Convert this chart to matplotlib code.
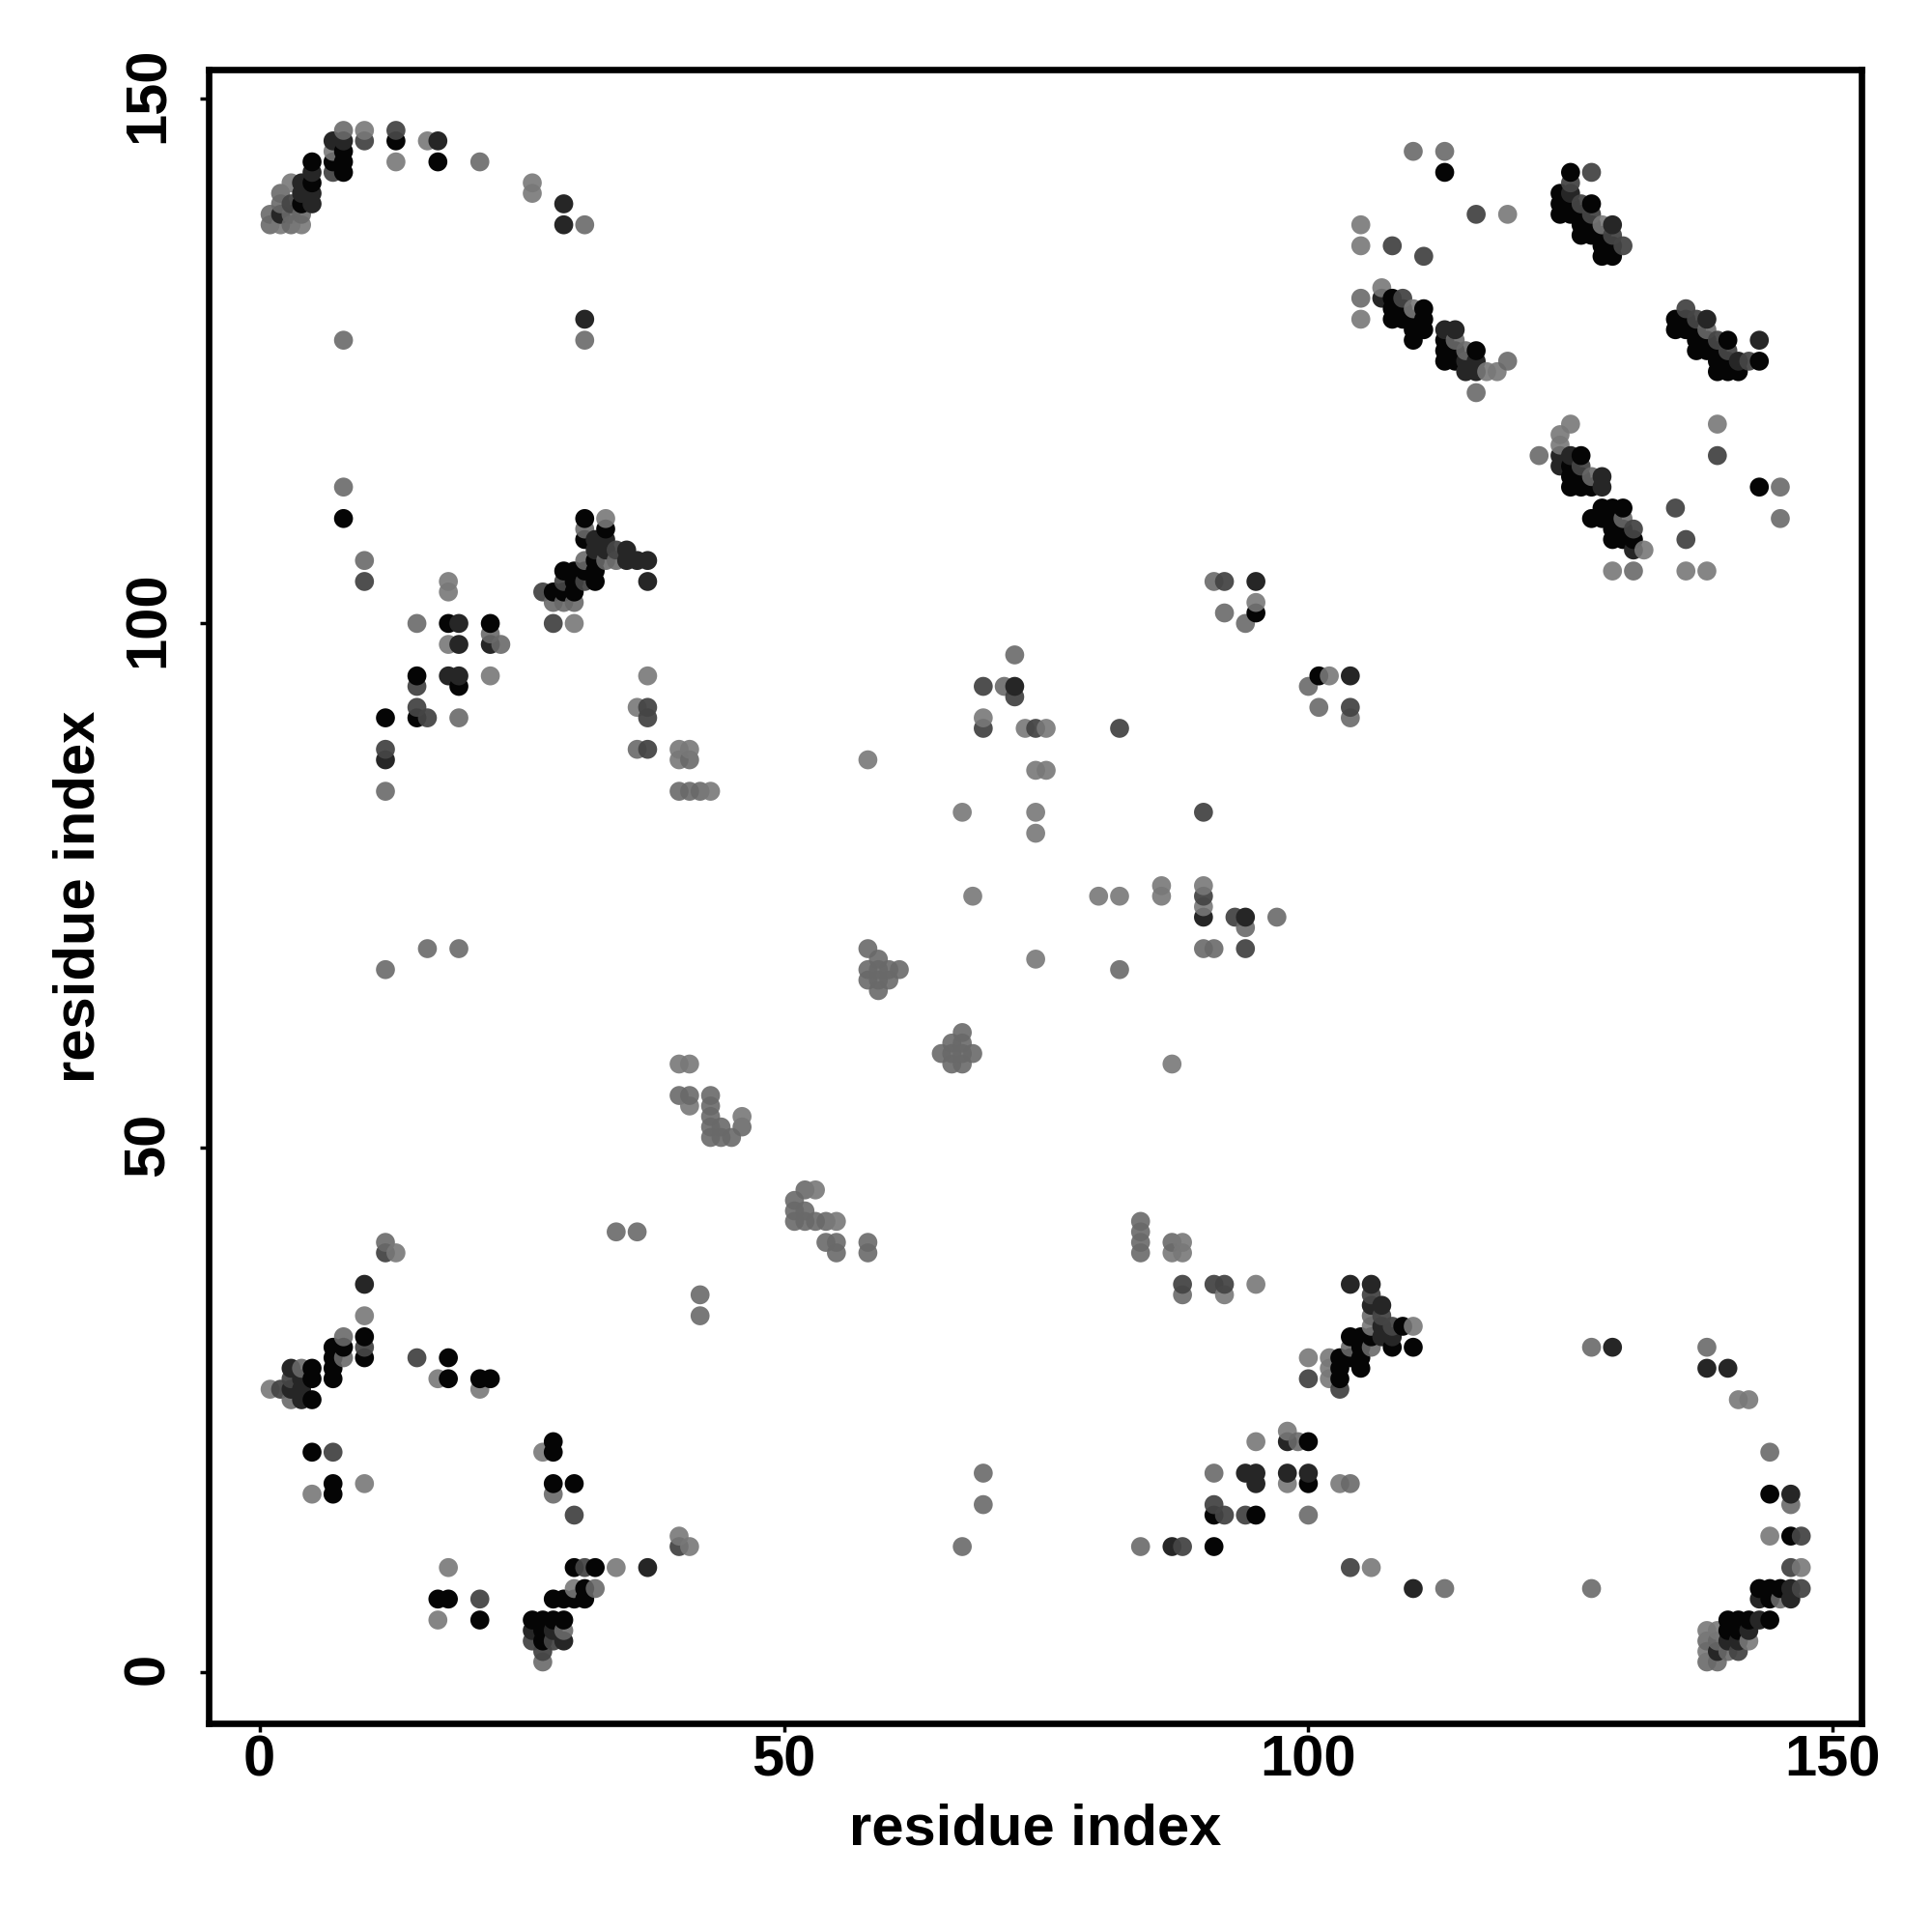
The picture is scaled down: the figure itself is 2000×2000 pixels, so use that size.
import numpy as np
import matplotlib
matplotlib.use("Agg")
from matplotlib import pyplot as plt
from matplotlib.transforms import ScaledTranslation

plt.rcParams["font.family"] = ["Liberation Sans", "DejaVu Sans"]
plt.rcParams["font.weight"] = "bold"

# contacts (x, y), grouped by how dark the dot is
cerne = [(13,146),(17,144),(5,144),(5,142),(4,140),(7,144),(8,145),(8,144),(8,143),
    (113,143),(108,131),(108,130),(108,129),(109,130),(109,129),(110,129),(110,128),(110,127),(111,130),(111,129),(111,128),
    (113,127),(113,126),(113,125),(114,126),(114,125),(116,126),
    (125,143),(124,141),(124,140),(124,139),(125,140),(125,139),(126,139),(126,138),(126,137),(127,140),(127,138),(127,137),
    (128,137),(128,136),(128,135),(129,136),(129,135),
    (135,129),(135,128),(136,129),(136,128),(137,128),(137,127),(137,126),(138,127),(138,126),(139,126),(139,125),(139,124),
    (140,127),(140,125),(140,124),(141,124),(143,125),
    (125,115),(125,114),(125,113),(126,116),(126,114),(126,113),(127,113),(128,111),(128,110),(129,111),(129,110),(129,109),(129,108),
    (127,110),(130,111),(130,109),(130,108),(131,108),(143,113),
    (8,110),(18,100),(22,100),(19,94),(15,95),(12,91),(15,91),(31,110),(33,109),(31,108),(32,106),(31,105),(32,105),(32,104),
    (29,105),(29,103),(30,105),(30,104),(30,103),(28,103),(95,101),(101,95),
    (10,32),(10,30),(8,31),(7,31),(7,30),(7,29),(7,28),(5,29),(5,28),(5,26),(18,30),(18,28),(21,28),(22,28),(5,21),(7,18),(7,17),
    (28,22),(28,21),(28,18),(30,18),(30,10),(32,10),(31,8),(17,7),(18,7),(28,7),(29,7),(30,7),(31,7),(21,5),(26,5),(27,5),(28,5),(29,5),(27,4),(27,3),
    (109,33),(104,32),(105,32),(106,32),(105,31),(108,31),(110,31),(103,30),(104,30),(105,30),(103,29),(105,29),(103,28),
    (100,22),(100,18),(91,15),(95,15),(91,12),(144,17),(146,13),(143,8),(144,8),(145,8),(144,7),(140,5),(141,5),(142,5),(144,5),(140,4),(141,4)]

tmave = [(8,146),(7,146),(4,142),(4,141),(5,143),(5,141),(5,140),(17,146),(29,140),(29,138),(31,129),(2,139),
    (107,131),(113,128),(114,128),(115,125),(115,124),(116,125),(116,124),(125,141),(129,138),(138,129),(141,125),(143,127),
    (124,116),(124,115),(125,116),(128,114),(128,113),(131,107),
    (19,100),(19,98),(22,98),(18,95),(19,95),(12,87),(32,108),(32,107),(33,108),(33,107),(35,107),(35,106),(36,106),(37,106),(37,104),
    (72,94),(90,72),(94,72),(95,104),(104,95),
    (10,37),(26,4),(28,4),(29,3),(140,3),(141,3),(139,2),(142,4),(143,5),(143,7),(146,7),(146,8),(146,17),(4,28),(4,27),(4,26),(3,27),(3,29),(37,10),
    (104,37),(106,37),(106,35),(107,35),(107,33),(107,32),(108,32),(129,31),(138,29),(140,29),(98,22),(94,19),(95,19),(95,18),(98,19),(100,19),(87,12),(110,8)]

stredni = [(13,147),(10,146),(7,143),(3,140),(116,139),(108,136),(111,135),(109,131),(126,140),(127,139),(125,142),(127,143),(130,136),(129,137),
    (136,130),(137,129),(139,127),(140,126),(142,125),(126,115),(131,109),(90,82),(135,111),(136,108),(139,116),
    (10,104),(15,94),(16,91),(15,92),(12,88),(37,92),(37,91),(37,88),(27,103),(29,104),(31,104),(34,107),(28,100),(69,94),(72,93),(69,90),(74,90),(82,90),
    (90,74),(93,72),(94,69),(92,104),(104,92),
    (3,28),(2,27),(15,30),(7,21),(21,7),(30,15),(40,12),(31,10),(26,3),(27,2),(28,3),(12,40),(10,31),
    (88,37),(91,37),(92,37),(106,36),(107,34),(108,33),(104,10),(103,27),(91,16),(92,15),(94,15),(88,12),(147,13),(146,10),(147,8),(141,2),(100,28)]

sede = [(8,147),(2,141),(2,140),(3,139),(3,138),(4,139),(1,139),(1,138),(31,138),(8,127),(31,127),(21,144),
    (110,145),(113,145),(105,131),(122,116),(116,122),(114,127),(115,126),(127,114),(130,110),(138,128),(119,125),(145,113),(145,110),(131,105),
    (8,113),(10,106),(15,100),(22,99),(23,98),(19,91),(12,84),(36,88),(40,84),(41,84),(42,84),(31,106),(33,106),(34,106),(28,102),(29,102),(30,102),(31,109),
    (41,87),(40,55),(41,55),(43,55),(43,54),(43,53),(43,52),(43,51),(44,52),(44,51),(45,51),(46,52),(52,46),(51,45),(51,44),(52,44),(51,43),(52,43),(53,43),(54,43),
    (54,41),(55,41),(55,40),(58,41),(58,40),(66,60),(67,61),(67,60),(65,59),(66,59),(67,59),(68,59),(66,58),(67,58),
    (58,69),(59,68),(58,67),(59,67),(60,67),(61,67),(58,66),(59,66),(60,66),(59,65),
    (72,97),(71,94),(90,69),(91,69),(94,71),(97,72),(82,67),(91,104),(92,101),(94,100),(100,94),(101,92),(104,91),
    (12,41),(8,32),(8,30),(4,29),(28,17),(32,8),(29,4),(36,42),(34,42),(42,36),(42,34),(12,67),(16,69),(19,69),
    (84,43),(84,42),(84,41),(84,40),(87,41),(88,36),(106,34),(104,31),(106,31),(127,31),(138,31),(144,21),(146,16),(91,19),(99,22),(104,18),(100,15),(84,12),
    (113,8),(127,8),(138,3),(139,3),(138,1),(139,1),(140,2),(145,7),(27,1),(3,26),(67,12),(69,16),(69,19)]

svetle = [(10,147),(16,146),(3,142),(2,138),(4,138),(7,145),(13,144),(26,142),(26,141),
    (119,139),(105,138),(105,136),(105,129),(107,132),(110,130),(117,124),(118,124),(128,138),(125,119),(124,118),(124,117),(132,107),(129,105),(136,105),(138,105),(139,119),
    (18,104),(18,103),(18,98),(22,95),(37,95),(33,110),(36,92),(40,88),(41,88),(40,87),(43,84),(30,100),
    (40,58),(41,58),(41,54),(46,53),(53,46),(55,43),(58,87),(73,90),(75,90),(74,86),(75,86),(67,82),(74,82),(74,80),(74,68),(68,74),(80,74),(82,74),(86,75),(86,74),(90,75),(90,73),(87,58),(95,102),(102,95),(69,91),
    (1,27),(10,34),(5,17),(10,18),(27,21),(17,28),(21,27),(18,10),(34,10),(30,8),(17,5),(13,40),(40,13),(41,12),
    (87,40),(88,41),(88,40),(92,36),(95,37),(98,23),(95,22),(100,30),(102,30),(102,29),(102,28),(110,33),(106,33),(141,26),(142,26),
    (138,4),(139,4),(138,2),(142,3),(144,13),(147,10),(98,18),(103,18),(106,10)]

skupiny = [cerne, tmave, stredni, sede, svetle]
odstiny = [0.02, 0.15, 0.27, 0.41, 0.47]
pruhlednost = [1.0, 1.0, 0.95, 0.9, 0.9]
popisky = [0, 50, 100, 150]

body = np.array([b for s in skupiny for b in s], dtype=float)
barvy = np.array([(odstiny[i],) * 3 + (pruhlednost[i],) for i, s in enumerate(skupiny) for _ in s])
poradi = np.lexsort((body[:, 1], body[:, 0]))  # points were drawn column by column

fig = plt.figure(figsize=(20, 20), dpi=100)
ax = fig.add_axes([216.3/2000, 1 - 1784/2000, (1927-216.3)/2000, (1784-72)/2000])
ax.scatter(body[poradi, 0], body[poradi, 1], s=200, linewidths=0, c=barvy[poradi])
ax.set_xlim(-4.83, 152.74)
ax.set_ylim(-4.85, 152.8)

for s in ax.spines.values():
    s.set_linewidth(4.8)
ax.set_xticks(popisky)
ax.set_yticks(popisky)
ax.tick_params(axis="both", length=6.2, width=2.5, labelsize=43)
ax.tick_params(axis="x", pad=2)
ax.tick_params(axis="y", pad=19)
posun = ScaledTranslation(0, 4/100, fig.dpi_scale_trans)  # rotated labels sit a bit low otherwise
for t in ax.get_yticklabels():
    t.set_rotation(90)
    t.set_va("center")
    t.set_transform(t.get_transform() + posun)
ax.set_xlabel("residue index", fontsize=43, fontweight="bold", labelpad=11.5)
ax.set_ylabel("residue index", fontsize=43, fontweight="bold", labelpad=12)

plt.savefig("out.png", dpi=100, facecolor="white")
